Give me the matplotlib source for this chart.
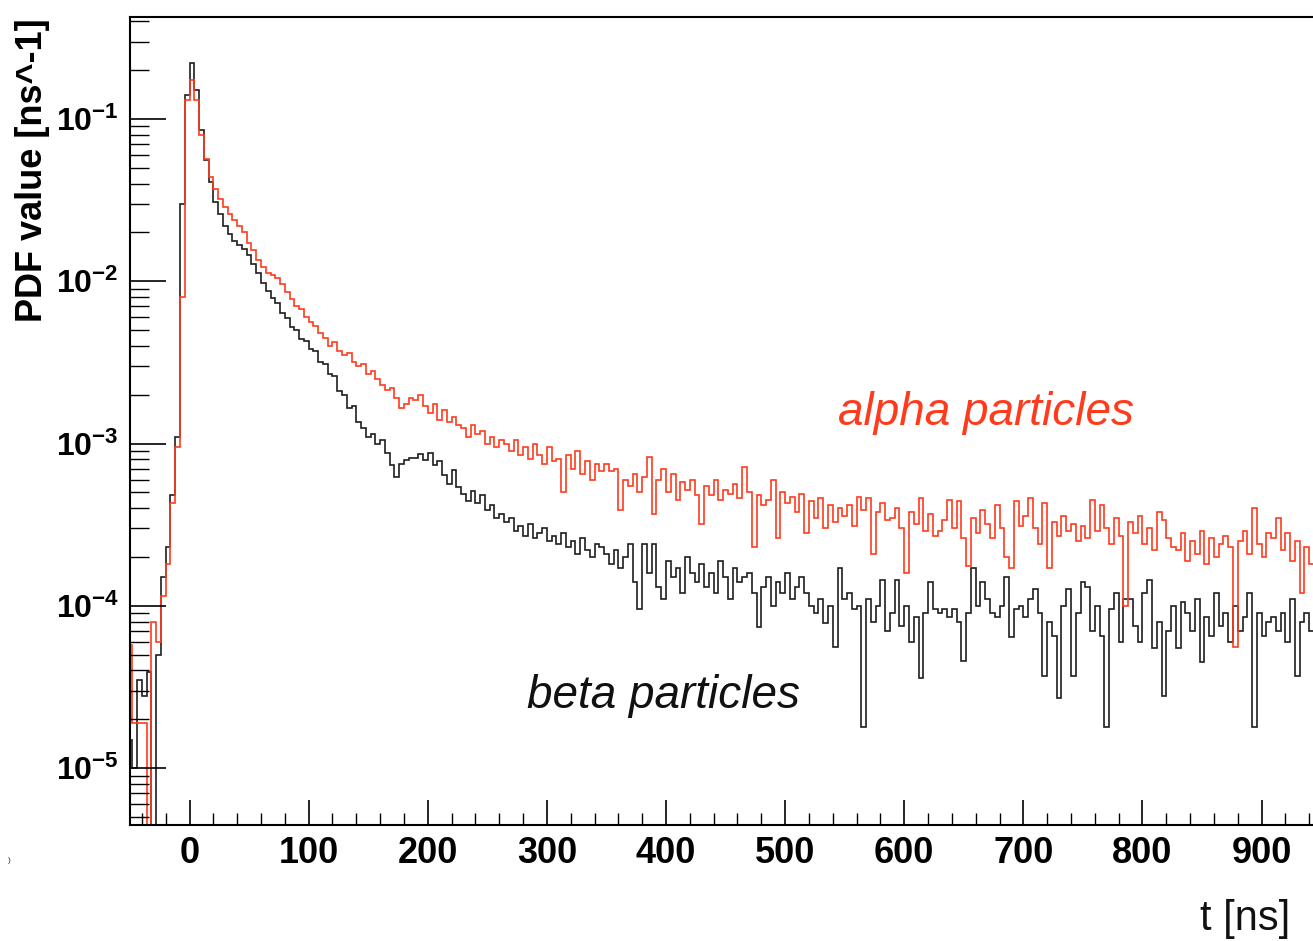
#!/usr/bin/env python3
import numpy as np
import matplotlib
matplotlib.use("Agg")
import matplotlib.pyplot as plt

# time bins [ns], 4 ns wide
t_edges = np.arange(-52, 949, 4)

# beta particles PDF per bin [ns^-1] (rows of 40 ns)
beta_pdf = [
    1.5e-5, 1.0e-5, 3.5e-5, 2.8e-5, 3.9e-5, 0, 5.0e-5, 1.5e-4, 2.3e-4, 4.8e-4,
    1.1e-3, 3.0e-2, 1.4e-1, 2.2e-1, 1.5e-1, 8.5e-2, 5.6e-2, 4.1e-2, 3.1e-2, 2.6e-2,
    2.2e-2, 1.95e-2, 1.78e-2, 1.67e-2, 1.57e-2, 1.46e-2, 1.27e-2, 1.13e-2, 9.8e-3, 8.7e-3,
    7.9e-3, 7.3e-3, 6.4e-3, 5.9e-3, 5.2e-3, 5.0e-3, 4.4e-3, 4.3e-3, 3.8e-3, 3.7e-3,
    3.2e-3, 3.1e-3, 2.7e-3, 2.6e-3, 2.1e-3, 2.0e-3, 1.65e-3, 1.7e-3, 1.35e-3, 1.25e-3,
    1.1e-3, 1.15e-3, 1.0e-3, 1.05e-3, 8.8e-4, 7.4e-4, 6.2e-4, 7.5e-4, 7.9e-4, 8.2e-4,
    8.1e-4, 8.6e-4, 7.9e-4, 8.7e-4, 7.4e-4, 7.8e-4, 6.4e-4, 5.6e-4, 6.9e-4, 5.4e-4,
    4.9e-4, 4.4e-4, 5.1e-4, 4.3e-4, 4.8e-4, 3.9e-4, 4.2e-4, 3.5e-4, 3.7e-4, 3.3e-4,
    3.5e-4, 2.9e-4, 3.1e-4, 2.7e-4, 3.2e-4, 2.6e-4, 2.8e-4, 3.0e-4, 2.5e-4, 2.7e-4,
    2.4e-4, 2.8e-4, 2.3e-4, 2.5e-4, 2.1e-4, 2.6e-4, 2.2e-4, 2.0e-4, 2.4e-4, 2.3e-4,
    2.1e-4, 1.8e-4, 2.2e-4, 1.7e-4, 2.0e-4, 2.4e-4, 1.4e-4, 9.5e-5, 2.4e-4, 1.6e-4,
    2.4e-4, 1.3e-4, 1.1e-4, 1.9e-4, 1.5e-4, 1.7e-4, 1.2e-4, 2.0e-4, 1.6e-4, 1.4e-4,
    1.8e-4, 1.3e-4, 1.6e-4, 1.2e-4, 1.9e-4, 1.5e-4, 1.1e-4, 1.7e-4, 1.4e-4, 1.5e-4,
    1.6e-4, 1.2e-4, 7.4e-5, 1.3e-4, 1.5e-4, 1.0e-4, 1.4e-4, 1.2e-4, 1.6e-4, 1.1e-4,
    1.3e-4, 1.5e-4, 1.2e-4, 1.0e-4, 9.0e-5, 1.1e-4, 7.8e-5, 1.0e-4, 5.6e-5, 1.7e-4,
    1.1e-4, 1.2e-4, 9.5e-5, 1.0e-4, 1.8e-5, 1.1e-4, 8.0e-5, 1.0e-4, 1.45e-4, 7.0e-5,
    9.0e-5, 1.45e-4, 7.5e-5, 1.0e-4, 6.0e-5, 8.5e-5, 3.6e-5, 9.0e-5, 1.4e-4, 9.5e-5,
    9.0e-5, 9.5e-5, 8.5e-5, 9.5e-5, 8.0e-5, 4.6e-5, 9.0e-5, 1.7e-4, 1.0e-4, 1.4e-4,
    1.1e-4, 9.0e-5, 8.5e-5, 1.0e-4, 1.5e-4, 6.4e-5, 9.5e-5, 1.0e-4, 8.5e-5, 1.1e-4,
    1.27e-4, 9.0e-5, 3.7e-5, 8.0e-5, 6.5e-5, 2.7e-5, 1.0e-4, 1.27e-4, 3.7e-5, 9.0e-5,
    1.4e-4, 1.3e-4, 7.0e-5, 1.0e-4, 6.5e-5, 1.8e-5, 9.5e-5, 1.2e-4, 6.0e-5, 1.1e-4,
    1.1e-4, 7.5e-5, 6.0e-5, 1.2e-4, 1.45e-4, 5.5e-5, 8.0e-5, 2.8e-5, 7.0e-5, 1.0e-4,
    5.5e-5, 1.05e-4, 9.0e-5, 7.0e-5, 1.1e-4, 4.5e-5, 8.5e-5, 6.5e-5, 1.2e-4, 7.5e-5,
    9.0e-5, 6.0e-5, 1.0e-4, 7.0e-5, 8.5e-5, 1.2e-4, 1.8e-5, 9.0e-5, 6.5e-5, 8.0e-5,
    8.5e-5, 7.0e-5, 9.0e-5, 6.0e-5, 1.1e-4, 3.7e-5, 8.0e-5, 9.0e-5, 7.0e-5, 8.5e-5,
]

# alpha particles PDF per bin [ns^-1]
alpha_pdf = [
    5.7e-5, 1.9e-5, 1.9e-5, 1.9e-5, 0, 7.9e-5, 6.0e-5, 1.15e-4, 1.8e-4, 4.3e-4,
    9.5e-4, 8.0e-3, 1.3e-1, 1.75e-1, 1.3e-1, 8.0e-2, 5.7e-2, 4.4e-2, 3.7e-2, 3.2e-2,
    2.85e-2, 2.6e-2, 2.4e-2, 2.2e-2, 2.0e-2, 1.72e-2, 1.55e-2, 1.35e-2, 1.22e-2, 1.13e-2,
    1.1e-2, 1.05e-2, 9.6e-3, 8.6e-3, 7.8e-3, 7.0e-3, 6.7e-3, 6.0e-3, 5.6e-3, 5.3e-3,
    4.8e-3, 4.5e-3, 4.0e-3, 4.2e-3, 3.7e-3, 3.5e-3, 3.6e-3, 3.2e-3, 3.0e-3, 3.1e-3,
    2.7e-3, 2.8e-3, 2.5e-3, 2.3e-3, 2.15e-3, 2.2e-3, 1.9e-3, 1.65e-3, 1.75e-3, 1.9e-3,
    1.85e-3, 2.0e-3, 1.7e-3, 1.55e-3, 1.75e-3, 1.4e-3, 1.6e-3, 1.35e-3, 1.45e-3, 1.3e-3,
    1.25e-3, 1.1e-3, 1.3e-3, 1.15e-3, 1.2e-3, 1.0e-3, 1.1e-3, 9.5e-4, 1.05e-3, 1.0e-3,
    9.0e-4, 1.05e-3, 8.5e-4, 9.5e-4, 8.0e-4, 1.0e-3, 8.5e-4, 7.5e-4, 9.5e-4, 7.8e-4,
    8.0e-4, 5.0e-4, 8.5e-4, 7.0e-4, 9.0e-4, 6.5e-4, 7.8e-4, 6.0e-4, 7.5e-4, 6.8e-4,
    7.5e-4, 6.8e-4, 7.0e-4, 3.9e-4, 6.0e-4, 5.5e-4, 6.5e-4, 5.0e-4, 6.2e-4, 8.3e-4,
    3.7e-4, 6.0e-4, 7.0e-4, 5.0e-4, 6.5e-4, 4.5e-4, 5.8e-4, 5.2e-4, 6.0e-4, 4.8e-4,
    3.2e-4, 5.5e-4, 4.8e-4, 6.0e-4, 4.5e-4, 5.2e-4, 4.9e-4, 5.6e-4, 4.6e-4, 7.2e-4,
    5.0e-4, 2.3e-4, 4.8e-4, 4.2e-4, 4.5e-4, 6.0e-4, 2.6e-4, 5.0e-4, 4.3e-4, 4.7e-4,
    3.8e-4, 4.9e-4, 2.8e-4, 4.4e-4, 3.5e-4, 4.6e-4, 3.0e-4, 4.2e-4, 3.3e-4, 4.0e-4,
    3.6e-4, 4.2e-4, 3.1e-4, 4.7e-4, 3.9e-4, 4.6e-4, 2.1e-4, 3.8e-4, 4.3e-4, 3.4e-4,
    3.5e-4, 4.0e-4, 3.0e-4, 1.6e-4, 3.8e-4, 3.2e-4, 4.6e-4, 2.9e-4, 3.7e-4, 2.7e-4,
    2.9e-4, 3.4e-4, 4.5e-4, 3.0e-4, 4.4e-4, 2.6e-4, 1.75e-4, 3.5e-4, 2.8e-4, 3.9e-4,
    3.2e-4, 2.6e-4, 4.2e-4, 3.0e-4, 2.0e-4, 1.7e-4, 4.4e-4, 3.1e-4, 3.6e-4, 4.6e-4,
    3.0e-4, 2.4e-4, 4.3e-4, 1.7e-4, 3.3e-4, 2.7e-4, 3.6e-4, 2.9e-4, 3.2e-4, 2.5e-4,
    3.1e-4, 2.6e-4, 4.5e-4, 2.9e-4, 4.2e-4, 3.0e-4, 2.4e-4, 3.5e-4, 2.7e-4, 1.0e-4,
    3.3e-4, 2.8e-4, 3.6e-4, 2.4e-4, 3.0e-4, 2.2e-4, 3.8e-4, 3.4e-4, 2.6e-4, 2.3e-4,
    2.2e-4, 2.8e-4, 1.9e-4, 2.5e-4, 2.1e-4, 2.9e-4, 1.8e-4, 2.6e-4, 2.0e-4, 2.4e-4,
    2.7e-4, 2.3e-4, 5.6e-5, 2.5e-4, 2.9e-4, 2.1e-4, 4.0e-4, 2.4e-4, 2.0e-4, 2.8e-4,
    2.6e-4, 3.5e-4, 2.2e-4, 2.8e-4, 1.9e-4, 2.5e-4, 1.2e-4, 2.3e-4, 1.8e-4, 2.1e-4,
]

x_ticks = [0, 100, 200, 300, 400, 500, 600, 700, 800, 900]
y_ticks = [1e-5, 1e-4, 1e-3, 1e-2, 1e-1]
y_tick_labels = [r"$10^{-5}$", r"$10^{-4}$", r"$10^{-3}$", r"$10^{-2}$", r"$10^{-1}$"]

RED = "#ff3b1d"

plt.rcParams["font.family"] = ["Liberation Sans", "DejaVu Sans"]
plt.rcParams["mathtext.fontset"] = "custom"
plt.rcParams["mathtext.rm"] = "Liberation Sans:bold"
plt.rcParams["mathtext.it"] = "Liberation Sans:bold"
plt.rcParams["mathtext.bf"] = "Liberation Sans:bold"

fig = plt.figure(figsize=(13.13, 9.41), dpi=100)
# the right side of the frame runs past the picture, as in the slide
ax = fig.add_axes([130 / 1313, 116 / 941, 1250.7 / 1313, 808 / 941])

# empty bins drop below the frame on a log axis
beta = np.clip(np.array(beta_pdf, dtype=float), 1e-9, None)
alpha = np.clip(np.array(alpha_pdf, dtype=float), 1e-9, None)
ax.stairs(beta, t_edges, color="#1e1e1e", lw=1.2, baseline=None)
ax.stairs(alpha, t_edges, color=RED, lw=1.2, baseline=None)

ax.set_yscale("log")
ax.set_xlim(-50, 1000)
ax.set_ylim(4.46e-6, 0.425)

ax.set_xticks(x_ticks)
ax.set_xticklabels([str(v) for v in x_ticks], fontsize=26, fontweight="bold")
ax.set_xticks(np.arange(-40, 1000, 20), minor=True)
ax.set_yticks(y_ticks)
ax.set_yticklabels(y_tick_labels, fontsize=23)
ax.yaxis.set_minor_locator(matplotlib.ticker.LogLocator(base=10, subs=np.arange(2, 10)))
ax.yaxis.set_minor_formatter(matplotlib.ticker.NullFormatter())

ax.tick_params(axis="x", which="major", direction="in", length=18, width=1.2, pad=8)
ax.tick_params(axis="x", which="minor", direction="in", length=8.6, width=1.0)
ax.tick_params(axis="y", which="major", direction="in", length=26, width=1.2, pad=8)
ax.tick_params(axis="y", which="minor", direction="in", length=14, width=1.0)
ax.tick_params(top=False, right=False, which="both")
for side in ["left", "bottom", "top", "right"]:
    ax.spines[side].set_linewidth(1.5)

ax.set_ylabel("PDF value [ns^-1]", fontsize=26, fontweight="bold")
ax.yaxis.set_label_coords(-0.064, 0.81)

fig.text(838 / 1313, (941 - 425) / 941, "alpha particles", color=RED,
         fontsize=33, style="italic", va="baseline")
fig.text(527 / 1313, (941 - 708) / 941, "beta particles", color="#111111",
         fontsize=33, style="italic", va="baseline")
fig.text(1200 / 1313, (941 - 930) / 941, "t [ns]", color="#111111",
         fontsize=30, va="baseline")
fig.text(8 / 1313, (941 - 862) / 941, ")", fontsize=6, color="#333333")

fig.savefig("out.png", dpi=100)
plt.close(fig)
